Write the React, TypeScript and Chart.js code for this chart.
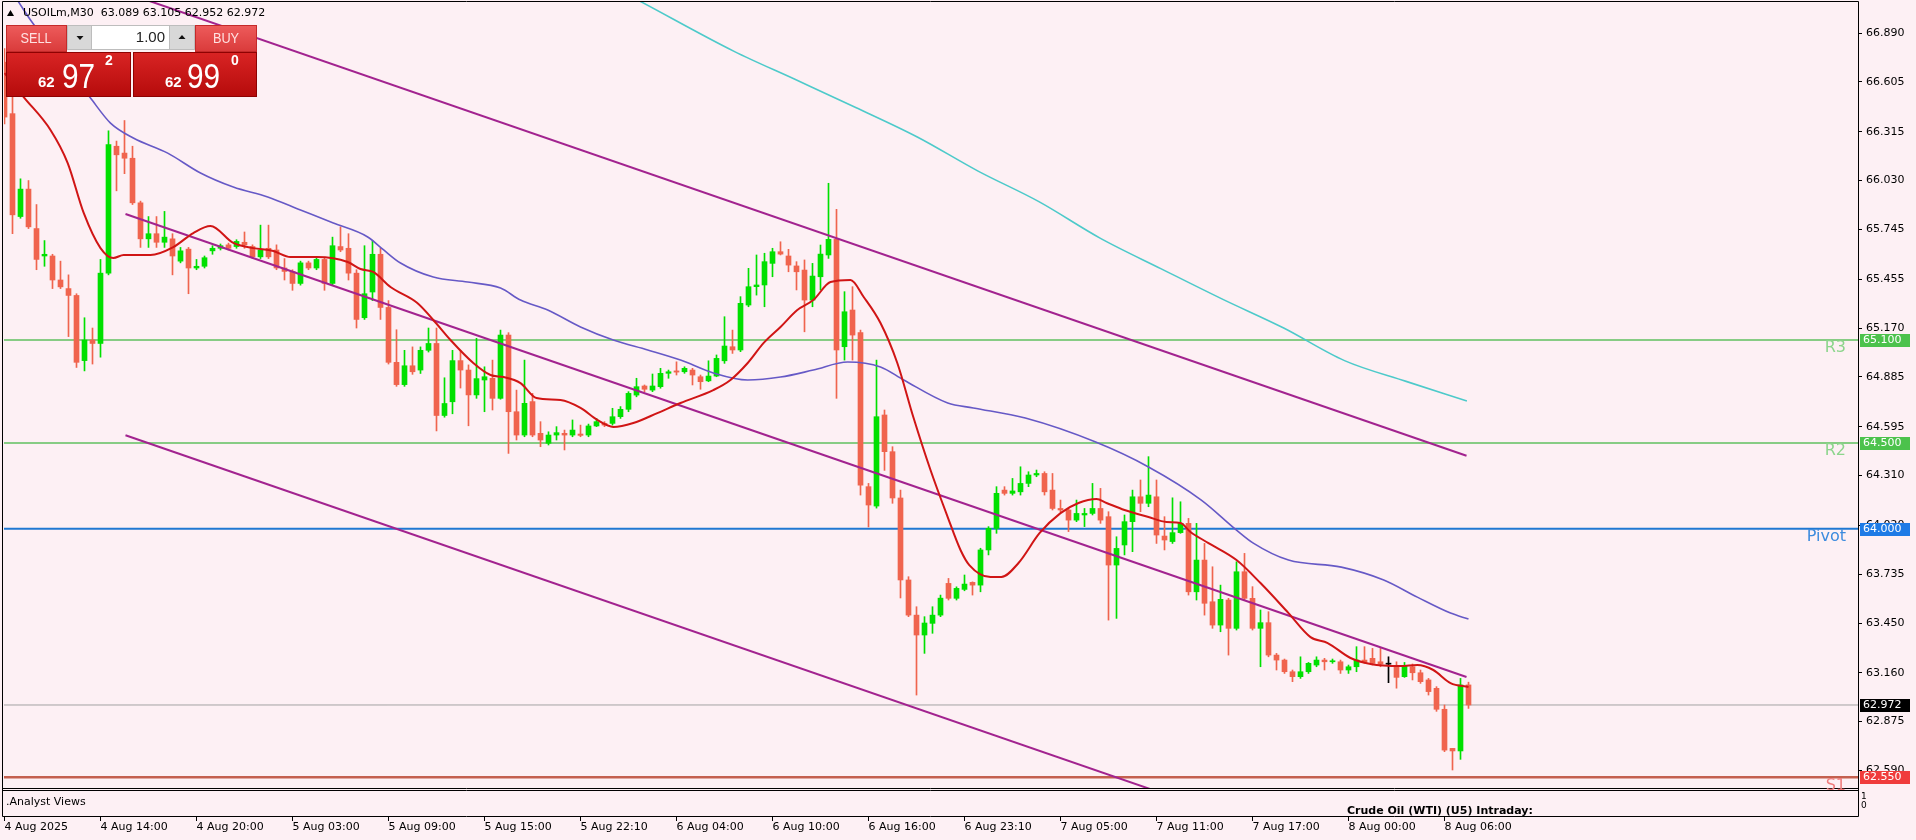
import React, { useEffect, useRef } from 'react';
import { Chart, registerables } from 'chart.js';

Chart.register(...registerables);

const CANVAS_W = 1916;
const CANVAS_H = 840;
const BG = '#FDF0F4';
const BULL = '#00E000';
const BEAR = '#F0644E';
const DOJI = '#000000';
const FONT = "'DejaVu Sans', sans-serif";

const timeLabels = [
  '4 Aug 2025', '4 Aug 14:00', '4 Aug 20:00', '5 Aug 03:00', '5 Aug 09:00', '5 Aug 15:00',
  '5 Aug 22:10', '6 Aug 04:00', '6 Aug 10:00', '6 Aug 16:00', '6 Aug 23:10', '7 Aug 05:00',
  '7 Aug 11:00', '7 Aug 17:00', '8 Aug 00:00', '8 Aug 06:00',
];
const timeLabelBars = [0, 12, 24, 36, 48, 60, 72, 84, 96, 108, 120, 132, 144, 156, 168, 180];

const priceTicks = [
  66.89, 66.605, 66.315, 66.03, 65.745, 65.455, 65.17, 64.885, 64.595, 64.31,
  64.02, 63.735, 63.45, 63.16, 62.875, 62.59,
];

const opens = [
  66.72, 66.42, 65.82, 65.98, 65.75, 65.59, 65.59, 65.45, 65.40, 65.36,
  64.98, 65.10, 65.08, 65.49, 66.23, 66.19, 66.16, 65.90, 65.69, 65.72,
  65.67, 65.69, 65.56, 65.63, 65.52, 65.53, 65.62, 65.635, 65.655, 65.645,
  65.67, 65.645, 65.585, 65.635, 65.625, 65.52, 65.50, 65.43, 65.55, 65.52,
  65.57, 65.43, 65.645, 65.635, 65.49, 65.23, 65.38, 65.60, 65.29, 64.97,
  64.84, 64.95, 64.925, 65.04, 65.08, 64.66, 64.74, 64.98, 64.925, 64.78,
  64.867, 64.877, 64.760, 65.129, 64.682, 64.546, 64.741, 64.556, 64.498, 64.546,
  64.556, 64.546, 64.552, 64.546, 64.599, 64.614, 64.614, 64.653, 64.696, 64.779,
  64.832, 64.808, 64.828, 64.906, 64.920, 64.915, 64.925, 64.886, 64.862, 64.890,
  64.979, 65.061, 65.042, 65.304, 65.411, 65.421, 65.547, 65.615, 65.590, 65.532,
  65.508, 65.333, 65.469, 65.596, 65.687, 65.061, 65.275, 65.143, 64.245, 64.132,
  64.663, 64.449, 64.179, 63.701, 63.496, 63.380, 63.448, 63.496, 63.681, 63.594,
  63.646, 63.687, 63.671, 63.876, 64.002, 64.225, 64.206, 64.215, 64.264, 64.313,
  64.322, 64.225, 64.118, 64.109, 64.050, 64.080, 64.089, 64.118, 64.070, 63.788,
  63.905, 64.041, 64.186, 64.148, 64.186, 63.957, 63.925, 63.977, 64.031, 63.632,
  63.817, 63.574, 63.438, 63.584, 63.419, 63.749, 63.594, 63.419, 63.452, 63.263,
  63.234, 63.166, 63.137, 63.166, 63.205, 63.234, 63.224, 63.224, 63.176, 63.195,
  63.234, 63.244, 63.224, 63.210, 63.195, 63.137, 63.195, 63.160, 63.118, 63.069,
  62.947, 62.719, 62.704, 63.089,
];

const highs = [
  66.80, 66.52, 66.04, 66.03, 65.89, 65.68, 65.60, 65.56, 65.48, 65.37,
  65.23, 65.17, 65.57, 66.32, 66.26, 66.38, 66.23, 65.91, 65.82, 65.82,
  65.85, 65.72, 65.64, 65.64, 65.57, 65.59, 65.65, 65.66, 65.665, 65.685,
  65.73, 65.655, 65.77, 65.77, 65.655, 65.575, 65.51, 65.56, 65.56, 65.58,
  65.58, 65.70, 65.76, 65.72, 65.51, 65.65, 65.68, 65.635, 65.33, 65.16,
  65.04, 65.06, 65.06, 65.17, 65.17, 64.88, 65.04, 65.04, 64.955, 65.11,
  64.944, 64.983, 65.158, 65.143, 64.808, 64.983, 64.789, 64.624, 64.565, 64.595,
  64.575, 64.634, 64.604, 64.610, 64.643, 64.624, 64.702, 64.712, 64.799, 64.877,
  64.838, 64.902, 64.935, 64.925, 64.973, 64.944, 64.935, 64.896, 64.979, 65.013,
  65.236, 65.158, 65.353, 65.518, 65.596, 65.606, 65.635, 65.673, 65.629, 65.557,
  65.567, 65.547, 65.654, 66.014, 65.862, 65.382, 65.411, 65.158, 64.264, 64.983,
  64.692, 64.478, 64.225, 63.720, 63.545, 63.487, 63.545, 63.613, 63.710, 63.661,
  63.730, 63.690, 63.886, 64.012, 64.245, 64.245, 64.293, 64.361, 64.332, 64.342,
  64.332, 64.322, 64.167, 64.118, 64.167, 64.118, 64.264, 64.235, 64.099, 63.953,
  64.080, 64.225, 64.284, 64.420, 64.284, 64.070, 64.180, 64.157, 64.060, 64.031,
  63.914, 63.778, 63.671, 63.594, 63.807, 63.856, 63.662, 63.526, 63.516, 63.273,
  63.240, 63.176, 63.253, 63.220, 63.253, 63.244, 63.240, 63.234, 63.205, 63.312,
  63.312, 63.302, 63.302, 63.253, 63.224, 63.220, 63.211, 63.176, 63.127, 63.079,
  62.972, 62.719, 63.127, 63.105,
];

const lows = [
  66.36, 65.72, 65.81, 65.75, 65.51, 65.53, 65.40, 65.40, 65.12, 64.94,
  64.92, 64.96, 65.00, 65.48, 65.97, 66.07, 65.89, 65.64, 65.64, 65.64,
  65.64, 65.48, 65.55, 65.37, 65.51, 65.52, 65.60, 65.625, 65.625, 65.635,
  65.635, 65.575, 65.575, 65.575, 65.51, 65.45, 65.39, 65.42, 65.51, 65.51,
  65.39, 65.42, 65.615, 65.45, 65.17, 65.22, 65.33, 65.22, 64.96, 64.83,
  64.83, 64.90, 64.905, 65.03, 64.57, 64.65, 64.67, 64.82, 64.60, 64.76,
  64.682, 64.692, 64.755, 64.439, 64.517, 64.536, 64.536, 64.478, 64.488, 64.517,
  64.459, 64.536, 64.536, 64.536, 64.595, 64.595, 64.604, 64.643, 64.682, 64.769,
  64.799, 64.799, 64.819, 64.877, 64.896, 64.906, 64.838, 64.813, 64.857, 64.886,
  64.964, 65.022, 65.032, 65.294, 65.362, 65.294, 65.469, 65.596, 65.498, 65.392,
  65.148, 65.294, 65.392, 65.576, 64.760, 64.983, 64.983, 64.196, 64.010, 64.120,
  64.340, 64.148, 63.596, 63.487, 63.030, 63.273, 63.390, 63.487, 63.584, 63.584,
  63.638, 63.613, 63.632, 63.847, 63.973, 64.196, 64.196, 64.196, 64.245, 64.303,
  64.196, 64.109, 64.099, 63.983, 64.041, 64.012, 64.080, 64.031, 63.467, 63.477,
  63.847, 63.866, 64.099, 64.128, 63.914, 63.876, 63.914, 63.973, 63.613, 63.584,
  63.496, 63.419, 63.399, 63.263, 63.409, 63.584, 63.409, 63.195, 63.253, 63.176,
  63.156, 63.108, 63.127, 63.156, 63.195, 63.176, 63.215, 63.156, 63.156, 63.166,
  63.215, 63.205, 63.195, 63.102, 63.070, 63.133, 63.118, 63.098, 63.030, 62.935,
  62.700, 62.593, 62.655, 62.952,
];

const closes = [
  66.40, 65.83, 65.98, 65.76, 65.57, 65.60, 65.45, 65.41, 65.36, 64.97,
  65.10, 65.08, 65.49, 66.24, 66.18, 66.16, 65.90, 65.69, 65.72, 65.67,
  65.70, 65.59, 65.62, 65.52, 65.53, 65.58, 65.635, 65.65, 65.635, 65.675,
  65.655, 65.585, 65.625, 65.585, 65.52, 65.50, 65.43, 65.55, 65.52, 65.57,
  65.43, 65.65, 65.625, 65.49, 65.22, 65.37, 65.60, 65.29, 64.97, 64.84,
  64.95, 64.915, 65.04, 65.08, 64.66, 64.73, 64.98, 64.925, 64.78, 64.875,
  64.886, 64.760, 65.129, 64.682, 64.546, 64.731, 64.546, 64.517, 64.546, 64.560,
  64.546, 64.575, 64.544, 64.599, 64.624, 64.604, 64.653, 64.696, 64.789, 64.828,
  64.813, 64.832, 64.906, 64.915, 64.913, 64.935, 64.896, 64.857, 64.890, 64.993,
  65.065, 65.042, 65.314, 65.411, 65.421, 65.557, 65.615, 65.601, 65.537, 65.498,
  65.333, 65.473, 65.601, 65.687, 65.042, 65.265, 65.129, 64.254, 64.138, 64.653,
  64.449, 64.179, 63.701, 63.496, 63.380, 63.450, 63.496, 63.595, 63.594, 63.652,
  63.677, 63.671, 63.876, 64.002, 64.206, 64.206, 64.220, 64.264, 64.313, 64.322,
  64.215, 64.118, 64.109, 64.050, 64.089, 64.089, 64.118, 64.050, 63.788, 63.885,
  64.041, 64.186, 64.148, 64.196, 63.963, 63.934, 63.977, 64.031, 63.632, 63.817,
  63.565, 63.438, 63.588, 63.419, 63.749, 63.594, 63.419, 63.452, 63.263, 63.234,
  63.166, 63.137, 63.166, 63.215, 63.234, 63.224, 63.230, 63.176, 63.195, 63.234,
  63.224, 63.215, 63.211, 63.210, 63.133, 63.199, 63.160, 63.108, 63.050, 62.947,
  62.709, 62.704, 63.089, 62.972,
];

// Fast moving average (red) at these bar positions
const redMaBars = [
  0, 2.4, 5.75, 7.9, 9.9, 12, 13.6, 14.9, 18.25, 21.1, 23.6, 25.75, 28.6, 31.1, 33.6,
  35.75, 39.1, 42.9, 44.5, 46.1, 48.25, 51.6, 53.6, 55.75, 58.6, 60.75, 62.4, 64.5, 66.5,
  69.5, 72, 74.1, 76.1, 78.6, 81.6, 84.5, 88.6, 90.75, 92.9, 94.9, 97, 99.1, 101.1, 103.25,
  105.75, 107.4, 109.5, 111.6, 113.6, 115.75, 117.9, 119.5, 120.6, 123.25, 124.6, 126.75,
  129.4, 132, 134.25, 136.5, 137.75, 140, 143, 145.25, 147, 148.25, 150.5, 154, 157, 160.5,
  163.25, 165.4, 168.25, 170.75, 174.5, 176.6, 178.6, 180.75, 183,
];
const redMaValues = [
  66.657, 66.517, 66.325, 66.132, 65.841, 65.636, 65.578, 65.596, 65.596, 65.642, 65.724,
  65.765, 65.666, 65.636, 65.619, 65.584, 65.584, 65.555, 65.514, 65.497, 65.409, 65.316,
  65.217, 65.1, 64.966, 64.896, 64.884, 64.849, 64.762, 64.75, 64.704, 64.634, 64.593,
  64.616, 64.674, 64.733, 64.808, 64.867, 64.966, 65.083, 65.176, 65.275, 65.333, 65.438,
  65.45, 65.351, 65.199, 64.966, 64.651, 64.342, 64.068, 63.876, 63.788, 63.718, 63.718,
  63.8, 63.975, 64.091, 64.15, 64.173, 64.15, 64.109, 64.068, 64.039, 64.033, 63.981,
  63.916, 63.817, 63.683, 63.508, 63.368, 63.333, 63.246, 63.211, 63.199, 63.205, 63.176,
  63.1, 63.077,
];

// Medium moving average (slate blue)
const slateMaBars = [
  1.6, 3.25, 10.75, 13.25, 16.1, 20.4, 24.5, 28.6, 32.9, 37, 41.1, 45.4, 47.4, 49.5, 53.6,
  57.9, 62, 64.5, 67.9, 72, 76.1, 80.4, 84.5, 88.6, 92.9, 97, 101.1, 105.4, 109.5, 112.4,
  117.9, 121.1, 127.6, 136.4, 143, 149.6, 154, 156.1, 160.5, 167.1, 172.4, 176.6, 180.75, 183,
];
const slateMaValues = [
  67.083, 66.966, 66.511, 66.365, 66.278, 66.19, 66.074, 65.992, 65.934, 65.858, 65.782,
  65.701, 65.625, 65.549, 65.467, 65.438, 65.403, 65.333, 65.275, 65.176, 65.1, 65.042,
  64.983, 64.908, 64.867, 64.884, 64.925, 64.972, 64.943, 64.867, 64.733, 64.704, 64.645,
  64.505, 64.36, 64.167, 63.992, 63.916, 63.817, 63.776, 63.701, 63.601, 63.508, 63.473,
];

// Slow moving average (turquoise)
const slowMaBars = [74, 79.7, 91.2, 98.8, 106.4, 114.1, 121.7, 129.3, 137, 144.6, 152.3, 159.9, 167.5, 175.2, 182.8];
const slowMaValues = [67.21, 67.069, 66.783, 66.62, 66.456, 66.284, 66.085, 65.907, 65.693, 65.515, 65.337, 65.17, 64.98, 64.859, 64.745];

// Regression channel
const channelBars = [15.125, 182.75];
const channelUpper = [67.125, 64.425];
const channelMiddle = [65.835, 63.135];
const channelLower = [64.545, 61.845];

// Pivot levels
const levelNames = ['R3', 'R2', 'Pivot', 'S1'];
const levelValues = [65.1, 64.5, 64.0, 62.55];
const levelLineColors = ['#5FC05F', '#5FC05F', '#1F78D2', '#C4604F'];
const levelTextColors = ['#8CD58C', '#8CD58C', '#3C8BDE', '#F07C7C'];
const levelBoxColors = ['#4CC24C', '#4CC24C', '#1E7BE6', '#F03C3C'];
const levelWidths = [1.5, 1.5, 2, 2.5];
const currentPrice = 62.972;

const X_MIN = -0.0625;
const X_MAX = 231.6875;
const Y_MIN = 62.488;
const Y_MAX = 67.071;

function txt(ctx: CanvasRenderingContext2D, s: string, x: number, y: number, font: string, color: string, align: CanvasTextAlign = 'left', base: CanvasTextBaseline = 'alphabetic', sx = 1) {
  ctx.save();
  ctx.font = font;
  ctx.fillStyle = color;
  ctx.textAlign = align;
  ctx.textBaseline = base;
  ctx.translate(x, y);
  ctx.scale(sx, 1);
  ctx.fillText(s, 0, 0);
  ctx.restore();
}

function drawPanel(ctx: CanvasRenderingContext2D) {
  const btn = (x: number, y: number, w: number, h: number) => {
    const g = ctx.createLinearGradient(0, y, 0, y + h);
    g.addColorStop(0, '#EE5C5C');
    g.addColorStop(1, '#D93A3A');
    ctx.fillStyle = g;
    ctx.fillRect(x, y, w, h);
    ctx.strokeStyle = '#C42A2A';
    ctx.lineWidth = 1;
    ctx.strokeRect(x + 0.5, y + 0.5, w - 1, h - 1);
  };
  btn(6, 25, 61, 27);
  btn(195, 25, 62, 27);
  // spinner
  ctx.fillStyle = '#D8D8D8';
  ctx.fillRect(67, 25, 25, 25);
  ctx.fillRect(169, 25, 26, 25);
  ctx.fillStyle = '#FFFFFF';
  ctx.fillRect(92, 25, 77, 25);
  ctx.strokeStyle = '#BDBDBD';
  ctx.strokeRect(67.5, 25.5, 127, 24);
  ctx.beginPath();
  ctx.moveTo(91.5, 25); ctx.lineTo(91.5, 50);
  ctx.moveTo(169.5, 25); ctx.lineTo(169.5, 50);
  ctx.stroke();
  ctx.fillStyle = '#111';
  ctx.beginPath();
  ctx.moveTo(76.5, 36); ctx.lineTo(83.5, 36); ctx.lineTo(80, 40); ctx.closePath(); ctx.fill();
  ctx.beginPath();
  ctx.moveTo(178.5, 39); ctx.lineTo(185.5, 39); ctx.lineTo(182, 35); ctx.closePath(); ctx.fill();
  txt(ctx, 'SELL', 36, 39, "15px 'Liberation Sans', sans-serif", '#FFE2E2', 'center', 'middle', 0.85);
  txt(ctx, 'BUY', 226, 39, "15px 'Liberation Sans', sans-serif", '#FFE2E2', 'center', 'middle', 0.85);
  txt(ctx, '1.00', 165, 38, "15px 'Liberation Sans', sans-serif", '#222', 'right', 'middle');
  // big boxes
  const big = (x: number, y: number, w: number, h: number) => {
    const g = ctx.createLinearGradient(0, y, 0, y + h);
    g.addColorStop(0, '#D92424');
    g.addColorStop(1, '#B50B0B');
    ctx.fillStyle = g;
    ctx.fillRect(x, y, w, h);
    ctx.strokeStyle = '#8E0202';
    ctx.strokeRect(x + 0.5, y + 0.5, w - 1, h - 1);
  };
  big(6, 52, 125, 45);
  big(133, 52, 124, 45);
  const bold15 = "bold 15px 'Liberation Sans', sans-serif";
  const huge = "35px 'Liberation Sans', sans-serif";
  const sup = "bold 14px 'Liberation Sans', sans-serif";
  txt(ctx, '62', 38, 87, bold15, '#FFFFFF');
  txt(ctx, '97', 62, 88, huge, '#FFFFFF', 'left', 'alphabetic', 0.85);
  txt(ctx, '2', 105, 65, sup, '#FFFFFF');
  txt(ctx, '62', 165, 87, bold15, '#FFFFFF');
  txt(ctx, '99', 187, 88, huge, '#FFFFFF', 'left', 'alphabetic', 0.85);
  txt(ctx, '0', 231, 65, sup, '#FFFFFF');
}

const overlayPlugin = {
  id: 'mt4Overlay',
  beforeDraw(chart: any) {
    const ctx = chart.ctx as CanvasRenderingContext2D;
    ctx.save();
    ctx.fillStyle = BG;
    ctx.fillRect(0, 0, chart.width, chart.height);
    ctx.restore();
  },
  afterDraw(chart: any) {
    const ctx = chart.ctx as CanvasRenderingContext2D;
    const ca = chart.chartArea;
    const xs = chart.scales.x;
    const ys = chart.scales.y;
    const L = Math.round(ca.left);
    const T = Math.round(ca.top);
    const R = Math.round(ca.right);
    const B = Math.round(ca.bottom);
    ctx.save();
    // frames
    ctx.strokeStyle = '#000';
    ctx.lineWidth = 1;
    ctx.beginPath();
    ctx.moveTo(L - 1.5, T - 0.5); ctx.lineTo(R + 0.5, T - 0.5);
    ctx.moveTo(L - 1.5, T - 0.5); ctx.lineTo(L - 1.5, 816.5);
    ctx.moveTo(R + 0.5, T - 0.5); ctx.lineTo(R + 0.5, 816.5);
    ctx.moveTo(L - 1.5, B + 0.5); ctx.lineTo(R + 0.5, B + 0.5);
    ctx.moveTo(L - 1.5, B + 2.5); ctx.lineTo(R + 0.5, B + 2.5);
    ctx.moveTo(L - 1.5, 816.5); ctx.lineTo(R + 0.5, 816.5);
    // tick marks
    for (const v of priceTicks) {
      const py = Math.floor(ys.getPixelForValue(v)) + 0.5;
      ctx.moveTo(R + 1, py); ctx.lineTo(R + 4, py);
    }
    for (const b of timeLabelBars) {
      const px = Math.floor(xs.getPixelForValue(b)) + 0.5;
      ctx.moveTo(px, 817); ctx.lineTo(px, 821);
    }
    ctx.stroke();

    // level labels and price boxes
    const boxFont = `11px ${FONT}`;
    levelValues.forEach((v, k) => {
      const py = ys.getPixelForValue(v);
      txt(ctx, levelNames[k], R - 12, py + 8, `16px ${FONT}`, levelTextColors[k], 'right', 'middle');
      ctx.fillStyle = levelBoxColors[k];
      ctx.fillRect(R + 2, Math.round(py) - 6, 50, 13);
      txt(ctx, v.toFixed(3), R + 5, Math.round(py) + 0.5, boxFont, '#FFFFFF', 'left', 'middle');
    });
    const cpy = ys.getPixelForValue(currentPrice);
    ctx.fillStyle = '#000';
    ctx.fillRect(R + 2, Math.round(cpy) - 6, 50, 13);
    txt(ctx, currentPrice.toFixed(3), R + 5, Math.round(cpy) + 0.5, boxFont, '#FFFFFF', 'left', 'middle');

    // sub window
    txt(ctx, '.Analyst Views', 6, 802, `11px ${FONT}`, '#000', 'left', 'middle');
    ctx.save();
    ctx.beginPath();
    ctx.rect(L, B + 3, R - L, 816 - (B + 3));
    ctx.clip();
    txt(ctx, 'Crude Oil (WTI) (U5) Intraday:', 1347, 814, `bold 11px ${FONT}`, '#000', 'left', 'alphabetic');
    ctx.restore();
    txt(ctx, '1', R + 3, 797, `9px ${FONT}`, '#000', 'left', 'middle');
    txt(ctx, '0', R + 3, 806, `9px ${FONT}`, '#000', 'left', 'middle');

    // header
    ctx.fillStyle = '#000';
    ctx.beginPath();
    ctx.moveTo(7, 16); ctx.lineTo(14, 16); ctx.lineTo(10.5, 10); ctx.closePath(); ctx.fill();
    txt(ctx, 'USOILm,M30  63.089 63.105 62.952 62.972', 23, 13, `11px ${FONT}`, '#000', 'left', 'middle');

    drawPanel(ctx);
    ctx.restore();
  },
};

export default function App() {
  const canvasRef = useRef<HTMLCanvasElement | null>(null);

  useEffect(() => {
    const canvas = canvasRef.current;
    if (!canvas) return;
    const colors = opens.map((o, i) => (closes[i] > o ? BULL : closes[i] < o ? BEAR : DOJI));
    const wickData = opens.map((_, i) => ({ x: i, y: [lows[i], highs[i]] }));
    const bodyData = opens.map((o, i) => ({ x: i, y: [o, closes[i]] }));
    const pts = (xs: number[], ys: number[]) => xs.map((x, i) => ({ x, y: ys[i] }));
    const flat = (v: number) => [{ x: X_MIN - 5, y: v }, { x: X_MAX + 5, y: v }];
    const lineBase = { type: 'line' as const, pointRadius: 0, clip: 0, fill: false };

    const levelSets = levelValues.map((v, k) => ({
      ...lineBase,
      label: levelNames[k],
      data: flat(v),
      borderColor: levelLineColors[k],
      borderWidth: levelWidths[k],
      order: 20,
    }));

    const chart = new Chart(canvas, {
      type: 'bar',
      data: {
        datasets: [
          ...levelSets,
          { ...lineBase, label: 'price', data: flat(currentPrice), borderColor: '#A3A3A3', borderWidth: 1, order: 19 },
          {
            type: 'bar', label: 'wicks', data: wickData as any, backgroundColor: colors,
            barThickness: 1, grouped: false, order: 11,
          },
          {
            type: 'bar', label: 'bodies', data: bodyData as any, backgroundColor: colors,
            barThickness: 5, minBarLength: 1, grouped: false, order: 10,
          },
          { ...lineBase, label: 'slow', data: pts(slowMaBars, slowMaValues), borderColor: '#4DCACA', borderWidth: 1.6, cubicInterpolationMode: 'monotone', order: 5 },
          { ...lineBase, label: 'slate', data: pts(slateMaBars, slateMaValues), borderColor: '#6659C6', borderWidth: 1.6, cubicInterpolationMode: 'monotone', order: 4 },
          { ...lineBase, label: 'up', data: pts(channelBars, channelUpper), borderColor: '#A2238F', borderWidth: 2, order: 3 },
          { ...lineBase, label: 'mid', data: pts(channelBars, channelMiddle), borderColor: '#A2238F', borderWidth: 2, order: 3 },
          { ...lineBase, label: 'low', data: pts(channelBars, channelLower), borderColor: '#A2238F', borderWidth: 2, order: 3 },
          { ...lineBase, label: 'fast', data: pts(redMaBars, redMaValues), borderColor: '#D01515', borderWidth: 2, cubicInterpolationMode: 'monotone', order: 2 },
        ] as any,
      },
      options: {
        animation: false,
        responsive: false,
        maintainAspectRatio: false,
        devicePixelRatio: 1,
        events: [],
        layout: { padding: { left: 4, top: 2, right: 0, bottom: 0 } },
        plugins: { legend: { display: false }, tooltip: { enabled: false } },
        scales: {
          x: {
            type: 'linear',
            min: X_MIN,
            max: X_MAX,
            offset: false,
            grid: { display: false, drawTicks: false, offset: false },
            border: { display: false },
            afterBuildTicks: (s: any) => { s.ticks = timeLabelBars.map((v) => ({ value: v })); },
            afterFit: (s: any) => { s.height = 52; s.paddingLeft = 0; s.paddingRight = 0; },
            ticks: {
              autoSkip: false, maxRotation: 0, minRotation: 0, align: 'start', padding: 33,
              color: '#000', font: { family: FONT, size: 11 },
              callback: (v: any) => { const k = timeLabelBars.indexOf(Number(v)); return k >= 0 ? timeLabels[k] : ''; },
            },
          },
          y: {
            type: 'linear',
            position: 'right',
            min: Y_MIN,
            max: Y_MAX,
            grid: { display: false, drawTicks: false },
            border: { display: false },
            afterBuildTicks: (s: any) => { s.ticks = priceTicks.map((v) => ({ value: v })); },
            afterFit: (s: any) => { s.width = 58; s.paddingTop = 0; s.paddingBottom = 0; },
            ticks: {
              autoSkip: false, padding: 8, color: '#000', font: { family: FONT, size: 11 },
              callback: (v: any) => Number(v).toFixed(3),
            },
          },
        },
      } as any,
      plugins: [overlayPlugin],
    });
    return () => chart.destroy();
  }, []);

  return (
    <canvas
      ref={canvasRef}
      width={CANVAS_W}
      height={CANVAS_H}
      style={{ position: 'fixed', left: 0, top: 0, width: CANVAS_W, height: CANVAS_H, display: 'block' }}
    />
  );
}
